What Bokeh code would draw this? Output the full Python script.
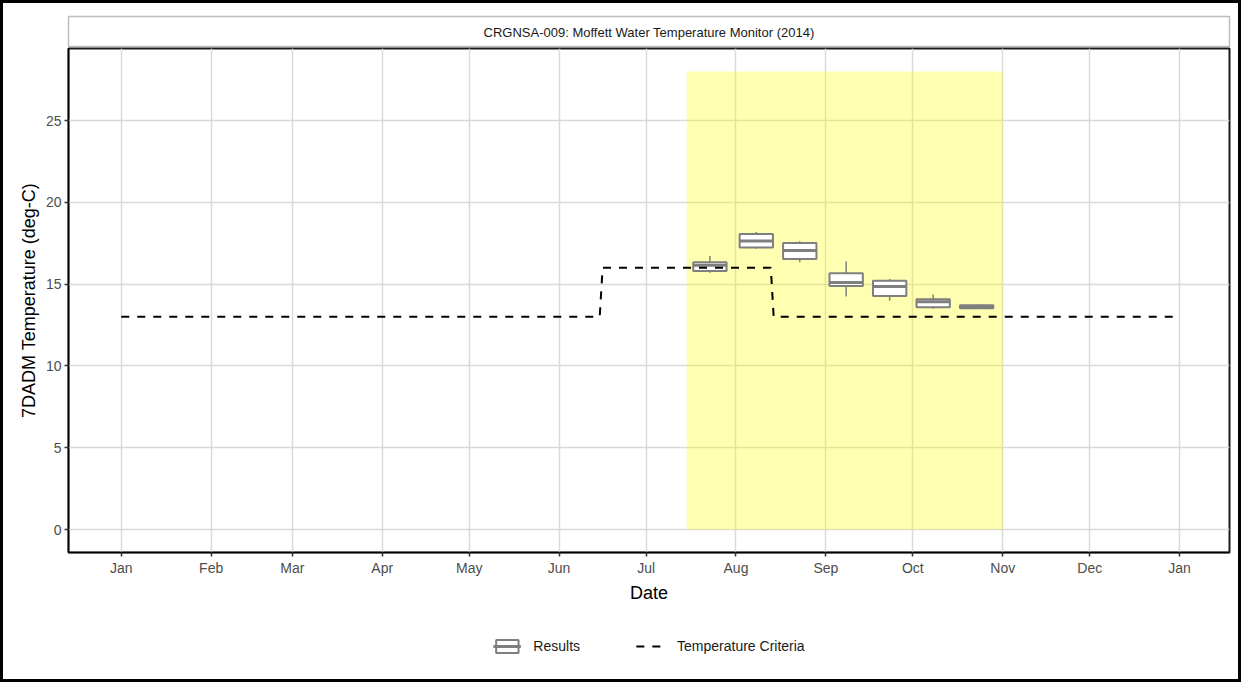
import pandas as pd
from bokeh.plotting import figure
from bokeh.layouts import column
from bokeh.models import (Range1d, FixedTicker, MonthsTicker, DatetimeTickFormatter,
                          Legend, LegendItem, Label, ColumnDataSource)
from bokeh.embed import file_html
from bokeh.resources import INLINE

# ---------------- data ----------------
title_text = "CRGNSA-009: Moffett Water Temperature Monitor (2014)"
y_ticks = [0, 5, 10, 15, 20, 25]

box_dates = ["2014-07-23", "2014-08-08", "2014-08-23", "2014-09-08",
             "2014-09-23", "2014-10-08", "2014-10-23"]
box_low = [15.70, 17.16, 16.33, 14.24, 13.99, 13.50, 13.49]
box_q1 = [15.80, 17.24, 16.53, 14.88, 14.28, 13.59, 13.52]
box_med = [16.15, 17.64, 17.05, 15.10, 14.86, 13.93, 13.61]
box_q3 = [16.34, 18.06, 17.51, 15.66, 15.20, 14.08, 13.71]
box_high = [16.72, 18.18, 17.62, 16.39, 15.32, 14.37, 13.73]
box_width_days = 11.5

crit_dates = ["2014-01-01", "2014-06-15", "2014-06-16", "2014-08-13", "2014-08-14", "2014-12-31"]
crit_values = [13, 13, 16, 16, 13, 13]

season_start = "2014-07-15"
season_end = "2014-11-01"
season_bottom = 0
season_top = 28

legend_labels = ["Results", "Temperature Criteria"]

# ---------------- derived ----------------
bx = pd.to_datetime(box_dates)
half = pd.Timedelta(days=box_width_days / 2)
box_src = ColumnDataSource(dict(
    x=bx, x0=bx - half, x1=bx + half,
    low=box_low, q1=box_q1, med=box_med, q3=box_q3, high=box_high,
))
crit_src = ColumnDataSource(dict(x=pd.to_datetime(crit_dates), y=crit_values))

d0 = pd.Timestamp(crit_dates[0])
d1 = pd.Timestamp(crit_dates[-1])
pad = (d1 - d0) * 0.05
ymin, ymax = 0, season_top
ypad = (ymax - ymin) * 0.05

FONT = "Liberation Sans"
W = 1235
ML, MR = 65, 9
BOXC = "#7f7f7f"

# ---------------- strip (facet title) ----------------
s = figure(width=W, height=44, output_backend="svg", toolbar_location=None,
           x_range=Range1d(0, 1), y_range=Range1d(0, 1),
           min_border_left=ML, min_border_right=MR, min_border_top=13, min_border_bottom=0)
s.axis.visible = False
s.grid.visible = False
s.outline_line_color = "#bdbdbd"
s.outline_line_width = 1.5
s.border_fill_color = "white"
s.add_layout(Label(x=0.5, y=0.5, text=title_text, text_align="center",
                   text_baseline="middle", text_font=FONT, text_font_size="13px",
                   text_color="#1a1a1a"))

# ---------------- main panel ----------------
p = figure(width=W, height=558, output_backend="svg", toolbar_location=None,
           x_axis_type="datetime",
           x_range=Range1d(d0 - pad, d1 + pad),
           y_range=Range1d(ymin - ypad, ymax + ypad),
           min_border_left=ML, min_border_right=MR, min_border_top=1, min_border_bottom=52)

p.background_fill_color = "white"
p.border_fill_color = "white"
p.outline_line_color = "#1a1a1a"
p.outline_line_width = 2

for g in (p.xgrid, p.ygrid):
    g.grid_line_color = "#d9d9d9"
    g.grid_line_width = 1.5

p.yaxis.ticker = FixedTicker(ticks=y_ticks)
p.xaxis.ticker = MonthsTicker(months=list(range(12)))
p.xaxis.formatter = DatetimeTickFormatter(months="%b", days="%b", years="%b")
for ax in (p.xaxis[0], p.yaxis[0]):
    ax.axis_line_color = "black"
    ax.axis_line_width = 1.5
    ax.major_tick_line_color = "#333333"
    ax.major_tick_line_width = 1.5
    ax.major_tick_out = 4
    ax.major_tick_in = 0
    ax.minor_tick_line_color = None
    ax.major_label_text_font = FONT
    ax.major_label_text_font_size = "14px"
    ax.major_label_text_color = "#4d4d4d"
    ax.major_label_standoff = 3
    ax.axis_label_text_font = FONT
    ax.axis_label_text_font_size = "18px"
    ax.axis_label_text_font_style = "normal"
    ax.axis_label_text_color = "black"
    ax.axis_label_standoff = 4
p.xaxis.axis_label = "Date"
p.yaxis.axis_label = "7DADM Temperature (deg-C)"

# season shading
p.quad(left=[pd.Timestamp(season_start)], right=[pd.Timestamp(season_end)],
       bottom=[season_bottom], top=[season_top],
       fill_color="yellow", fill_alpha=0.3, line_color=None)


def draw_boxes(fig):
    fig.segment(x0="x", x1="x", y0="q3", y1="high", source=box_src,
                line_color=BOXC, line_width=1.5)
    fig.segment(x0="x", x1="x", y0="low", y1="q1", source=box_src,
                line_color=BOXC, line_width=1.5)
    b = fig.quad(left="x0", right="x1", bottom="q1", top="q3", source=box_src,
                 fill_color="white", line_color=BOXC, line_width=2)
    m = fig.segment(x0="x0", x1="x1", y0="med", y1="med", source=box_src,
                    line_color=BOXC, line_width=3)
    return b, m


def draw_crit(fig):
    return fig.line(x="x", y="y", source=crit_src, line_color="black",
                    line_width=2, line_dash="8 8")


draw_boxes(p)
draw_crit(p)

# ---------------- legend row (same data, drawn out of view; only the legend shows) ----------------
lg = figure(width=W, height=74, output_backend="svg", toolbar_location=None,
            x_axis_type="datetime",
            x_range=Range1d(d0 - pad, d1 + pad), y_range=Range1d(-200, -100),
            min_border_left=ML, min_border_right=MR, min_border_top=31, min_border_bottom=23)
lg.axis.visible = False
lg.grid.visible = False
lg.outline_line_color = None
lg.border_fill_color = "white"
lg.background_fill_color = "white"
k_box, k_med = draw_boxes(lg)
k_crit = draw_crit(lg)

legend = Legend(items=[
    LegendItem(label=legend_labels[0], renderers=[k_box, k_med]),
    LegendItem(label=legend_labels[1], renderers=[k_crit]),
], orientation="horizontal", location="center")
legend.label_text_font = FONT
legend.label_text_font_size = "14px"
legend.label_text_color = "#1a1a1a"
legend.glyph_width = 28
legend.glyph_height = 16
legend.label_standoff = 13
legend.spacing = 56
legend.padding = 0
legend.margin = 0
legend.border_line_color = None
legend.background_fill_alpha = 0
lg.add_layout(legend)

layout = column(s, p, lg, spacing=0, styles={"border": "3px solid black"})

open("out.html", "w").write(file_html(layout, INLINE))
